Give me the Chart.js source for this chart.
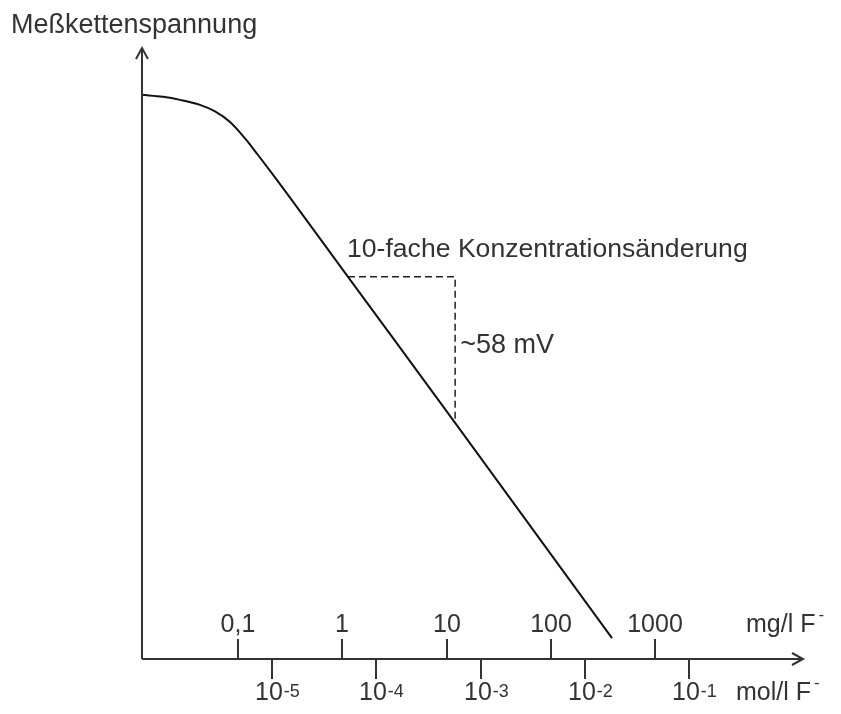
<!DOCTYPE html>
<html>
<head>
<meta charset="utf-8">
<title>Meßkettenspannung</title>
<script src="https://cdn.jsdelivr.net/npm/chart.js@4.4.1/dist/chart.umd.min.js"></script>
<style>
  body { margin: 0; background: #fff; }
  canvas { display: block; }
</style>
</head>
<body>
<canvas id="myChart" width="841" height="714"></canvas>
<script>
// Fluoride concentration (mg/l) and cell voltage (relative mV)
const concentration = [0.012, 0.0191, 0.0278, 0.0431, 0.0602, 0.0838, 0.1167, 0.1555, 0.2119, 0.3153, 1.135, 12.1, 387];
const voltage = [224.1, 223.3, 222.1, 220.1, 217.5, 213.3, 206.8, 200.2, 192.9, 183.3, 151.8, 93.8, 8.3];

// Slope triangle: one decade -> ~58 mV
const stepConcentration = [1.135, 12.1, 12.1];
const stepVoltage = [151.8, 151.8, 93.8];

// Tick values and labels for the two concentration axes
const mgTicks = [0.1, 1, 10, 100, 1000];
const mgLabels = ['0,1', '1', '10', '100', '1000'];
const molTicks = [1e-5, 1e-4, 1e-3, 1e-2, 1e-1];
const molExponents = ['-5', '-4', '-3', '-2', '-1'];

const FONT = '"Liberation Sans", Arial, sans-serif';
const TEXT = '#333';

// Draws the arrow axes, the tick marks with labels and the notes
const axesPlugin = {
  id: 'axesPlugin',
  afterDraw(chart) {
    const ctx = chart.ctx;
    const area = chart.chartArea;
    const x = chart.scales.x;
    const mol = chart.scales.mol;
    const y = chart.scales.y;

    ctx.save();
    ctx.strokeStyle = '#333';
    ctx.lineWidth = 2;

    // y axis with arrow
    ctx.beginPath();
    ctx.moveTo(area.left, area.bottom);
    ctx.lineTo(area.left, area.top);
    ctx.moveTo(area.left - 6, area.top + 11);
    ctx.lineTo(area.left, area.top);
    ctx.lineTo(area.left + 6, area.top + 11);
    ctx.stroke();

    // x axis with arrow
    ctx.beginPath();
    ctx.moveTo(area.left, area.bottom);
    ctx.lineTo(area.right, area.bottom);
    ctx.moveTo(area.right - 11, area.bottom - 6);
    ctx.lineTo(area.right, area.bottom);
    ctx.lineTo(area.right - 11, area.bottom + 6);
    ctx.stroke();

    ctx.fillStyle = TEXT;

    // mg/l ticks point up, labels above
    ctx.font = '25px ' + FONT;
    ctx.textAlign = 'center';
    ctx.textBaseline = 'alphabetic';
    mgTicks.forEach((v, i) => {
      const px = Math.round(x.getPixelForValue(v));
      ctx.beginPath();
      ctx.moveTo(px, area.bottom - 20);
      ctx.lineTo(px, area.bottom);
      ctx.stroke();
      ctx.fillText(mgLabels[i], px, area.bottom - 27);
    });

    // mol/l ticks point down, labels 10^n below
    ctx.textAlign = 'left';
    molTicks.forEach((v, i) => {
      const px = Math.round(mol.getPixelForValue(v));
      ctx.beginPath();
      ctx.moveTo(px, area.bottom);
      ctx.lineTo(px, area.bottom + 20);
      ctx.stroke();
      ctx.font = '25px ' + FONT;
      const start = px - 17;
      ctx.fillText('10', start, area.bottom + 41);
      const w = ctx.measureText('10').width;
      ctx.font = '18px ' + FONT;
      ctx.fillText(molExponents[i], start + w + 1, area.bottom + 38);
    });

    // unit labels
    const unit = (text, left, base) => {
      ctx.font = '25px ' + FONT;
      ctx.fillText(text, left, base);
      const w = ctx.measureText(text).width;
      ctx.font = '17px ' + FONT;
      ctx.fillText('-', left + w + 3, base - 12);
    };
    unit('mg/l F', 746, area.bottom - 27);
    unit('mol/l F', 736, area.bottom + 41);

    // title of the y axis
    ctx.font = '27px ' + FONT;
    ctx.fillText('Meßkettenspannung', 11, 33);

    // notes at the slope triangle
    const tx = x.getPixelForValue(stepConcentration[0]);
    const ty = y.getPixelForValue(stepVoltage[0]);
    ctx.font = '26.6px ' + FONT;
    ctx.fillText('10-fache Konzentrationsänderung', tx - 1, ty - 20);
    const vx = x.getPixelForValue(stepConcentration[1]);
    const vy = (y.getPixelForValue(stepVoltage[1]) + y.getPixelForValue(stepVoltage[2])) / 2;
    ctx.font = '27px ' + FONT;
    ctx.fillText('~58 mV', vx + 5, vy + 3);

    ctx.restore();
  }
};

const ctx = document.getElementById('myChart');

new Chart(ctx, {
  type: 'line',
  data: {
    datasets: [
      {
        label: 'Meßkettenspannung',
        data: concentration.map((c, i) => ({ x: c, y: voltage[i] })),
        borderColor: '#111',
        borderWidth: 2,
        pointRadius: 0,
        cubicInterpolationMode: 'monotone',
        xAxisID: 'x',
        yAxisID: 'y',
      },
      {
        label: '10-fache Konzentrationsänderung',
        data: stepConcentration.map((c, i) => ({ x: c, y: stepVoltage[i] })),
        borderColor: '#222',
        borderWidth: 1.5,
        borderDash: [7, 4],
        pointRadius: 0,
        tension: 0,
        xAxisID: 'x',
        yAxisID: 'y',
      },
    ],
  },
  options: {
    responsive: false,
    animation: false,
    layout: {
      padding: { left: 142, right: 38, top: 48, bottom: 55 },
    },
    plugins: {
      legend: { display: false },
      tooltip: { enabled: false },
    },
    scales: {
      x: { type: 'logarithmic', display: false, min: 0.01199, max: 26300 },
      mol: { type: 'logarithmic', axis: 'x', display: false, min: 5.66e-7, max: 1.24 },
      y: { type: 'linear', display: false, min: 0, max: 242.7 },
    },
  },
  plugins: [axesPlugin],
});
</script>
</body>
</html>
